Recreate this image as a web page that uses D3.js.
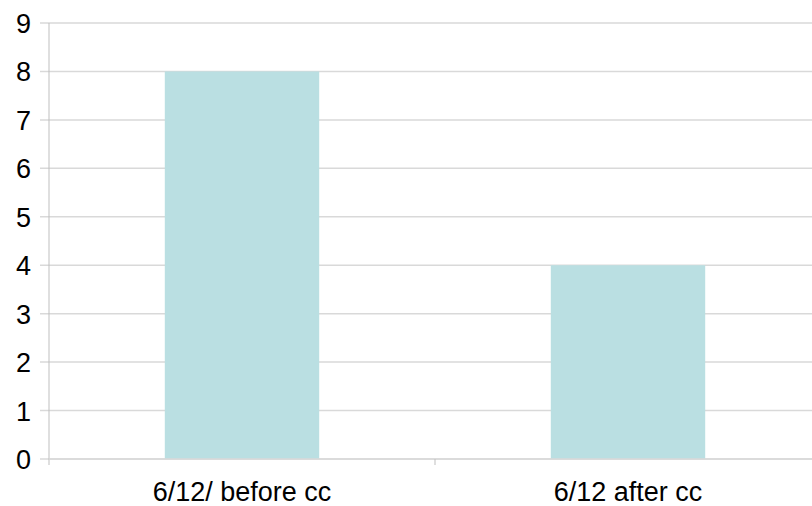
<!DOCTYPE html>
<html>
<head>
<meta charset="utf-8">
<script src="https://cdn.jsdelivr.net/npm/d3@7"></script>
<style>
  body { margin: 0; background: #fff; }
  svg text { font-family: "Liberation Sans", Arial, sans-serif; fill: #000; }
</style>
</head>
<body>
<svg id="viz"></svg>
<script>
var width = 812;
var height = 506;

// data
var categories = ["6/12/ before cc", "6/12 after cc"];
var values = [8, 4];
var yTicks = [0, 1, 2, 3, 4, 5, 6, 7, 8, 9];

var plotLeft = 49, plotRight = 821, plotTop = 23, plotBottom = 459;

var svg = d3.select("#viz")
  .attr("width", width)
  .attr("height", height);

var x = d3.scaleBand()
  .domain(categories)
  .range([plotLeft, plotRight])
  .padding(0);

var y = d3.scaleLinear()
  .domain([0, 9])
  .range([plotBottom, plotTop]);

// gridlines
svg.append("g")
  .selectAll("line")
  .data(yTicks)
  .enter().append("line")
  .attr("x1", plotLeft - 9)
  .attr("x2", width)
  .attr("y1", function(d) { return y(d); })
  .attr("y2", function(d) { return y(d); })
  .attr("stroke", "#d9d9d9")
  .attr("stroke-width", 1.5);

// bars
var barW = x.bandwidth() * 0.4;
svg.append("g")
  .selectAll("rect")
  .data(values)
  .enter().append("rect")
  .attr("x", function(d, i) { return x(categories[i]) + (x.bandwidth() - barW) / 2; })
  .attr("y", function(d) { return y(d); })
  .attr("width", barW)
  .attr("height", function(d) { return y(0) - y(d); })
  .attr("fill", "#badfe2");

// y axis line
svg.append("line")
  .attr("x1", plotLeft).attr("x2", plotLeft)
  .attr("y1", plotTop).attr("y2", plotBottom + 6)
  .attr("stroke", "#bfbfbf")
  .attr("stroke-width", 1);

// x axis line
svg.append("line")
  .attr("x1", plotLeft).attr("x2", width)
  .attr("y1", plotBottom).attr("y2", plotBottom)
  .attr("stroke", "#d9d9d9")
  .attr("stroke-width", 1.5);

// x category separators
svg.append("g")
  .selectAll("line")
  .data(categories.slice(1))
  .enter().append("line")
  .attr("x1", function(d) { return x(d); })
  .attr("x2", function(d) { return x(d); })
  .attr("y1", plotBottom)
  .attr("y2", plotBottom + 6)
  .attr("stroke", "#bfbfbf");

// y labels
svg.append("g")
  .selectAll("text")
  .data(yTicks)
  .enter().append("text")
  .attr("x", 31)
  .attr("y", function(d) { return y(d) + 10; })
  .attr("text-anchor", "end")
  .style("font-size", "27px")
  .text(function(d) { return d; });

// x labels
svg.append("g")
  .selectAll("text")
  .data(categories)
  .enter().append("text")
  .attr("x", function(d) { return x(d) + x.bandwidth() / 2; })
  .attr("y", 501)
  .attr("text-anchor", "middle")
  .style("font-size", "27px")
  .text(function(d) { return d; });
</script>
</body>
</html>
